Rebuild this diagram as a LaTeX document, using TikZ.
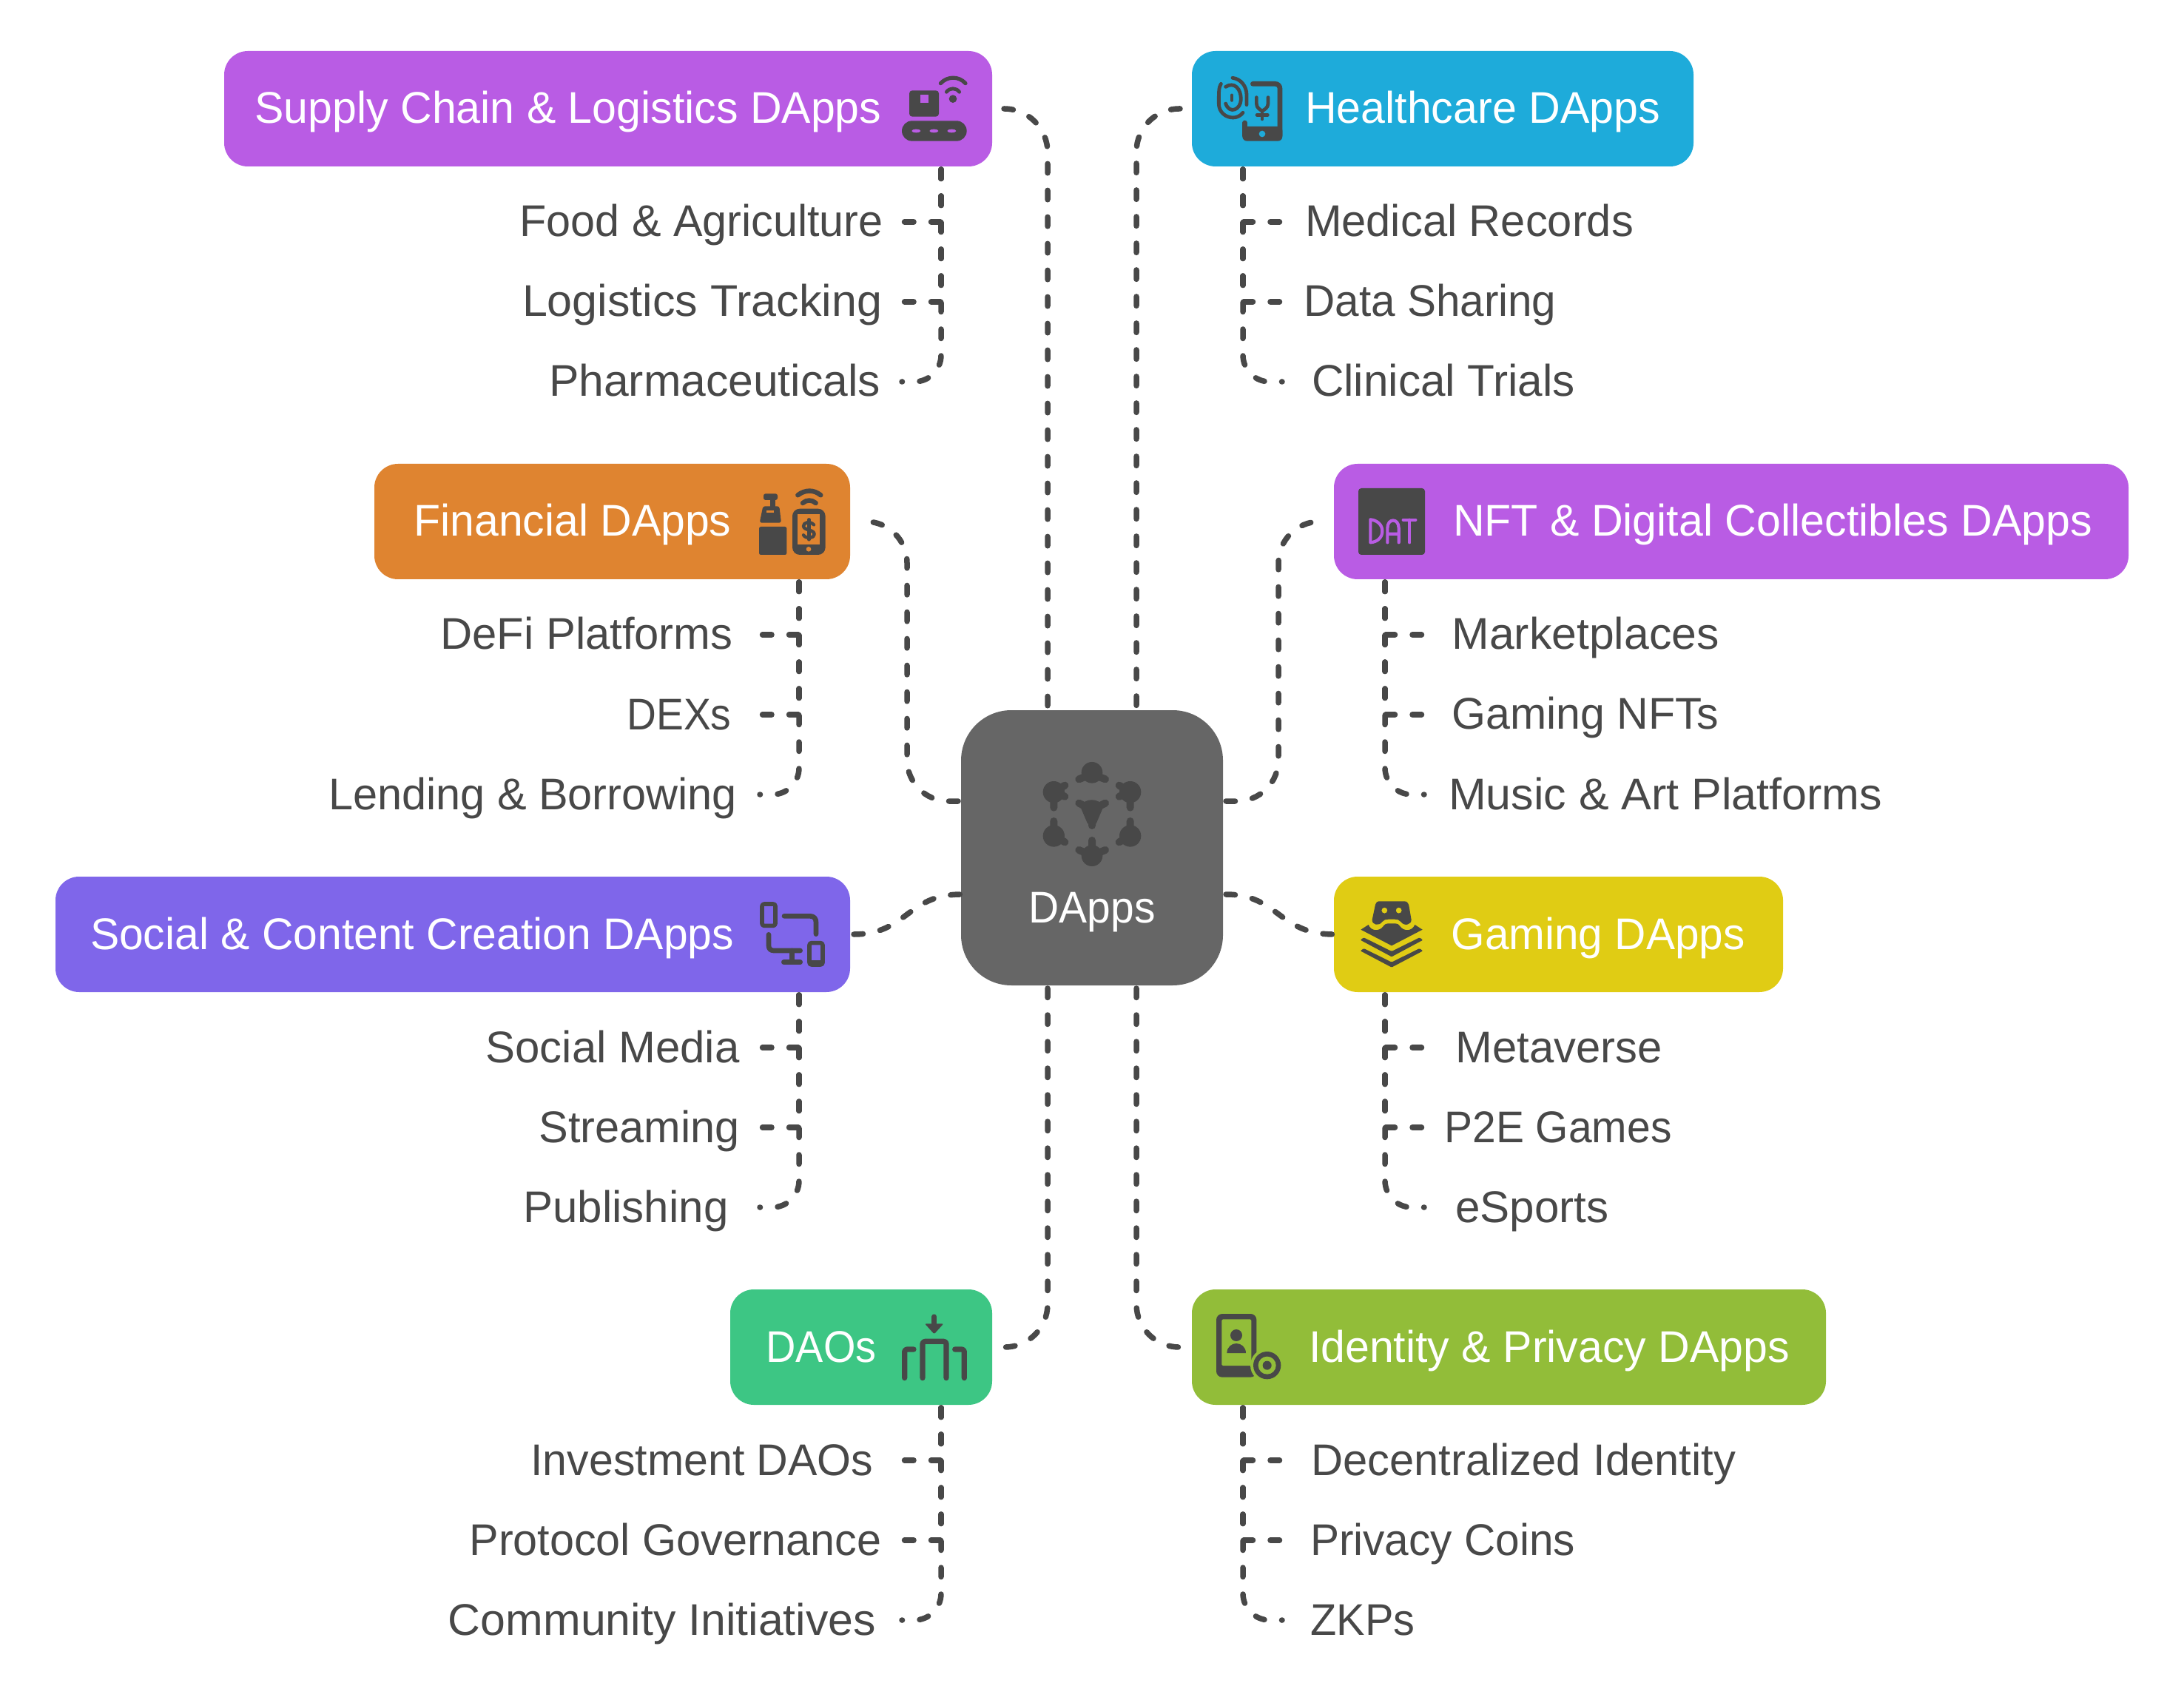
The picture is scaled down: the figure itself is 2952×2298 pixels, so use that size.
\documentclass[tikz,border=0pt]{standalone}
\usepackage{fontspec}
\usepackage{graphicx}
\setmainfont{Liberation Sans}
\usetikzlibrary{calc}
\definecolor{ink}{HTML}{484848}
\definecolor{cPurple}{HTML}{B95CE4}
\definecolor{cBlue}{HTML}{1EABDA}
\definecolor{cOrange}{HTML}{DF8430}
\definecolor{cIndigo}{HTML}{7F66EA}
\definecolor{cYellow}{HTML}{E0CC14}
\definecolor{cGreen}{HTML}{3DC684}
\definecolor{cLime}{HTML}{92BD39}
\definecolor{cCenter}{HTML}{666666}
\newcommand{\fit}[2]{\resizebox{\dimexpr#1pt/4\relax}{\height}{#2}}
\newcommand{\tx}[3]{\kern#1\makebox[0pt]{\fit{#2}{#3}}\kern-\dimexpr#1\relax}
\newcommand{\branch}[3]{\draw[conn] ($(#1.south -| #2)+(0,4)$) -- (#2 |- #3) -- (#3);}
\newcommand{\branchr}[3]{\draw[conn,rounded corners=9pt] ($(#1.south -| #2)+(0,4)$) -- (#2 |- #3) -- (#3);}
\tikzset{
  x=0.25pt,y=-0.25pt,
  every node/.style={inner sep=0pt,outer sep=0pt},
  conn/.style={draw=ink,line width=1.875pt,line cap=round,dash pattern=on 3.125pt off 5.875pt},
  bx/.style={rectangle,rounded corners=8pt,minimum height=39pt,text=white,text height=12pt,text depth=2pt,font=\fontsize{15}{18}\selectfont},
  sublabel/.style={anchor=base,text=ink,font=\fontsize{15}{18}\selectfont},
  ic/.style 2 args={shift={(#1,#2)},x=0.083333pt,y=-0.083333pt},
  st/.style={draw=ink,line cap=round,line join=round,line width=#1},
  st/.default=1.667pt
}
\begin{document}
\begin{tikzpicture}
\useasboundingbox (0,0) rectangle (2952,2298);
\fill[white] (0,0) rectangle (2952,2298);
% boxes
\node[bx,fill=cPurple,minimum width=259.5pt] (supply) at (822,147) {\tx{-13.5pt}{847}{Supply Chain \& Logistics DApps}};
\node[bx,fill=cBlue,minimum width=169.5pt] (health) at (1950,147) {\tx{13.5pt}{480}{Healthcare DApps}};
\node[bx,fill=cOrange,minimum width=160.75pt] (fin) at (827.5,705) {\tx{-13.375pt}{429}{Financial DApps}};
\node[bx,fill=cPurple,minimum width=268.5pt] (nft) at (2340,705) {\tx{14pt}{864}{NFT \& Digital Collectibles DApps}};
\node[bx,fill=cIndigo,minimum width=268.5pt] (social) at (612,1263) {\tx{-13.75pt}{870}{Social \& Content Creation DApps}};
\node[bx,fill=cYellow,minimum width=151.75pt] (gaming) at (2106.5,1263) {\tx{13.375pt}{397}{Gaming DApps}};
\node[bx,fill=cGreen,minimum width=88.5pt] (daos) at (1164,1821) {\tx{-13.5pt}{149}{DAOs}};
\node[bx,fill=cLime,minimum width=214.25pt] (identity) at (2039.5,1821) {\tx{13.625pt}{650}{Identity \& Privacy DApps}};
\node[bx,fill=cCenter,rounded corners=17pt,minimum width=88.5pt,minimum height=93pt] (dapps) at (1476,1146) {\raisebox{-20.25pt}{\fit{171}{DApps}}};
% sub labels
\node[sublabel] (l11) at (948,320) {\fit{491}{Food \& Agriculture}};
\node[sublabel] (l12) at (949,428) {\fit{486}{Logistics Tracking}};
\node[sublabel] (l13) at (966,536) {\fit{448}{Pharmaceuticals}};
\node[sublabel] (l21) at (1986,320) {\fit{444}{Medical Records}};
\node[sublabel] (l22) at (1933,428) {\fit{341}{Data Sharing}};
\node[sublabel] (l23) at (1951,536) {\fit{356}{Clinical Trials}};
\node[sublabel] (l31) at (793,878) {\fit{395}{DeFi Platforms}};
\node[sublabel] (l32) at (918,986) {\fit{141}{DEXs}};
\node[sublabel] (l33) at (720,1094) {\fit{552}{Lending \& Borrowing}};
\node[sublabel] (l41) at (2143,878) {\fit{361}{Marketplaces}};
\node[sublabel] (l42) at (2143,986) {\fit{361}{Gaming NFTs}};
\node[sublabel] (l43) at (2251,1094) {\fit{586}{Music \& Art Platforms}};
\node[sublabel] (l51) at (828,1436) {\fit{343}{Social Media}};
\node[sublabel] (l52) at (864,1544) {\fit{271}{Streaming}};
\node[sublabel] (l53) at (846,1652) {\fit{277}{Publishing}};
\node[sublabel] (l61) at (2107,1436) {\fit{279}{Metaverse}};
\node[sublabel] (l62) at (2106,1544) {\fit{307}{P2E Games}};
\node[sublabel] (l63) at (2071,1652) {\fit{207}{eSports}};
\node[sublabel] (l71) at (949,1994) {\fit{463}{Investment DAOs}};
\node[sublabel] (l72) at (913,2102) {\fit{557}{Protocol Governance}};
\node[sublabel] (l73) at (895,2210) {\fit{578}{Community Initiatives}};
\node[sublabel] (l81) at (2059,1994) {\fit{574}{Decentralized Identity}};
\node[sublabel] (l82) at (1950,2102) {\fit{358}{Privacy Coins}};
\node[sublabel] (l83) at (1842,2210) {\fit{141}{ZKPs}};
% helper coordinates
\coordinate (xA) at (1272,0);
\coordinate (xB) at (1680,0);
\coordinate (xC) at (1080,0);
\coordinate (xD) at (1872,0);
\coordinate (c11) at (1219,300);
\coordinate (c12) at (1219,408);
\coordinate (c13) at (1219,516);
\coordinate (c21) at (1733,300);
\coordinate (c22) at (1733,408);
\coordinate (c23) at (1733,516);
\coordinate (c31) at (1027,858);
\coordinate (c32) at (1027,966);
\coordinate (c33) at (1027,1074);
\coordinate (c41) at (1925,858);
\coordinate (c42) at (1925,966);
\coordinate (c43) at (1925,1074);
\coordinate (c51) at (1027,1416);
\coordinate (c52) at (1027,1524);
\coordinate (c53) at (1027,1632);
\coordinate (c61) at (1925,1416);
\coordinate (c62) at (1925,1524);
\coordinate (c63) at (1925,1632);
\coordinate (c71) at (1219,1974);
\coordinate (c72) at (1219,2082);
\coordinate (c73) at (1219,2190);
\coordinate (c81) at (1733,1974);
\coordinate (c82) at (1733,2082);
\coordinate (c83) at (1733,2190);
% branches
\branch{supply}{xA}{c11}\branch{supply}{xA}{c12}\branchr{supply}{xA}{c13}
\branch{health}{xB}{c21}\branch{health}{xB}{c22}\branchr{health}{xB}{c23}
\branch{fin}{xC}{c31}\branch{fin}{xC}{c32}\branchr{fin}{xC}{c33}
\branch{nft}{xD}{c41}\branch{nft}{xD}{c42}\branchr{nft}{xD}{c43}
\branch{social}{xC}{c51}\branch{social}{xC}{c52}\branchr{social}{xC}{c53}
\branch{gaming}{xD}{c61}\branch{gaming}{xD}{c62}\branchr{gaming}{xD}{c63}
\branch{daos}{xA}{c71}\branch{daos}{xA}{c72}\branchr{daos}{xA}{c73}
\branch{identity}{xB}{c81}\branch{identity}{xB}{c82}\branchr{identity}{xB}{c83}
% main connectors
\coordinate (yA) at (0,1083);
\coordinate (yB) at (0,1209);
\coordinate (vL) at (1416,0);
\coordinate (vR) at (1536,0);
\coordinate (vFin) at (1226,0);
\coordinate (vNft) at (1728,0);
\draw[conn,rounded corners=14.75pt] ($(supply.east)+(16,0)$) -- (vL |- supply.east) -- ($(dapps.north -| vL)+(0,-2)$);
\draw[conn,rounded corners=14.5pt] ($(health.west)+(-16,0)$) -- (vR |- health.west) -- ($(dapps.north -| vR)+(0,-2)$);
\draw[conn,rounded corners=14pt] ($(dapps.west |- yA)+(-4,0)$) -- (vFin |- yA) -- (vFin |- fin.east) -- ($(fin.east)+(20,0)$);
\draw[conn,rounded corners=14pt] ($(dapps.east |- yA)+(4,0)$) -- (vNft |- yA) -- (vNft |- nft.west) -- ($(nft.west)+(-14,0)$);
\draw[conn] ($(social.east)+(5,0)$) .. controls (vFin |- social.east) and (vFin |- yB) .. (dapps.west |- yB);
\draw[conn] ($(dapps.east |- yB)+(4,0)$) .. controls (vNft |- yB) and (vNft |- gaming.west) .. (gaming.west);
\draw[conn,rounded corners=14.5pt] ($(dapps.south -| vL)+(0,4)$) -- (vL |- daos.east) -- ($(daos.east)+(14,0)$);
\draw[conn,rounded corners=14.5pt] ($(dapps.south -| vR)+(0,4)$) -- (vR |- identity.west) -- ($(identity.west)+(-10,0)$);
% icon supply
\begin{scope}[ic={1150}{60}]
\fill[ink,rounded corners=1pt] (237,187) rectangle (357,293);
\fill[cPurple] (281,203) rectangle (314,238);
\fill[ink,rounded corners=3.4pt] (207,310) rectangle (470,392);
\fill[cPurple] (265,351) ellipse (18 and 7) (337,351) ellipse (18 and 7) (409,351) ellipse (18 and 7);
\fill[ink] (414,221) circle (16);
\draw[st=1.2pt] (388,193) .. controls (400,175) and (428,175) .. (440,193);
\draw[st=1.3pt] (364,158) .. controls (392,128) and (438,128) .. (465,158);
\end{scope}
% icon health
\begin{scope}[ic={1590}{60}]
\fill[ink,rounded corners=1.5pt] (268,333) rectangle (430,392);
\fill[ink,rounded corners=1pt] (268,333) rectangle (288,345);
\draw[st] (310,160) -- (400,160) .. controls (412,160) and (420,168) .. (420,180) -- (420,370);
\draw[st] (278,318) -- (278,370);
\fill[cBlue] (348,363) circle (13);
\draw[st=1.17pt] (325,215) -- (325,240) .. controls (325,258) and (340,265) .. (348,270) .. controls (356,265) and (372,258) .. (372,240) -- (372,215);
\draw[st=1.17pt] (348,270) -- (348,303) (327,286) -- (370,286);
\draw[st=1.2pt] (181,160) .. controls (172,175) and (172,190) .. (172,240) .. controls (172,275) and (200,297) .. (230,297) .. controls (245,297) and (260,290) .. (270,277);
\draw[st=1.2pt] (228,136) .. controls (262,140) and (285,170) .. (285,205) -- (285,245);
\draw[st=1.2pt] (200,172) .. controls (235,150) and (262,180) .. (262,222) .. controls (262,265) and (215,285) .. (200,240);
\draw[st=.9pt] (225,205) -- (225,228);
\end{scope}
% icon financial
\begin{scope}[ic={990}{640}]
\fill[ink,rounded corners=.6pt] (108,216) rectangle (220,330);
\fill[ink,rounded corners=.7pt] (124,133) -- (190,133) -- (198,200) -- (110,200) -- cycle;
\fill[ink] (152,100) rectangle (175,140);
\fill[ink,rounded corners=.7pt] (126,82) rectangle (183,108);
\fill[cOrange] (138,150) rectangle (168,160);
\fill[ink,rounded corners=2.5pt] (243,143) rectangle (377,330);
\fill[cOrange] (265,165) rectangle (355,287);
\fill[cOrange] (309,307) circle (10);
\draw[st=1.1pt] (330,208) .. controls (315,192) and (288,198) .. (288,213) .. controls (288,232) and (332,226) .. (332,247) .. controls (332,262) and (300,268) .. (288,250);
\draw[st=1.1pt] (310,187) -- (310,268);
\draw[st=1.6pt] (265,88) .. controls (295,65) and (330,65) .. (358,88);
\draw[st=1.6pt] (285,120) .. controls (300,106) and (322,106) .. (338,120);
\end{scope}
% icon nft
\begin{scope}[ic={1800}{640}]
\fill[ink,rounded corners=1pt] (108,60) rectangle (378,330);
\draw[cPurple,line width=1.05pt,line cap=round,line join=round] (157,187) -- (157,280) .. controls (185,278) and (205,260) .. (205,234) .. controls (205,208) and (185,190) .. (157,187);
\draw[cPurple,line width=1.05pt,line cap=round,line join=round] (226,280) -- (226,222) .. controls (226,180) and (272,180) .. (272,222) -- (272,280) (226,245) -- (272,245);
\draw[cPurple,line width=1.05pt,line cap=round,line join=round] (290,188) -- (340,188) (316,188) -- (316,280);
\end{scope}
% icon center
\begin{scope}[ic={1290}{950}]
\fill[ink] (558,283) circle (43);
\draw[st=2.5pt] (505,310) -- (530,300) (612,310) -- (586,300);
\fill[ink] (403,362) circle (44) (713,362) circle (44) (403,540) circle (44) (713,540) circle (44);
\draw[st=2.5pt] (403,362) -- (448,335) (403,362) -- (448,380) (403,362) -- (403,425);
\draw[st=2.5pt] (713,362) -- (668,335) (713,362) -- (668,380) (713,362) -- (713,425);
\draw[st=2.5pt] (403,540) -- (403,480) (403,540) -- (448,565);
\draw[st=2.5pt] (713,540) -- (713,480) (713,540) -- (668,565);
\fill[ink] (510,420) .. controls (530,385) and (585,385) .. (605,420) -- (575,490) -- (540,490) -- cycle;
\draw[st=2.5pt] (505,407) -- (540,425) (612,407) -- (576,425) (558,440) -- (558,498);
\fill[ink] (558,620) circle (43);
\draw[st=2.5pt] (558,620) -- (558,558) (505,597) -- (558,620) (612,597) -- (558,620);
\end{scope}
% icon social
\begin{scope}[ic={1010}{1200}]
\draw[st=1.4pt,rounded corners=.7pt] (60,66) rectangle (114,154);
\draw[st] (150,115) -- (255,115) .. controls (270,115) and (279,125) .. (279,140) -- (279,188);
\draw[st] (87,190) -- (87,235) .. controls (87,248) and (95,255) .. (108,255) -- (215,255);
\draw[st] (181,255) -- (181,302) (148,302) -- (215,302);
\draw[st=1.4pt,rounded corners=.7pt] (252,224) rectangle (306,312);
\fill[ink] (252,295) rectangle (306,312);
\end{scope}
% icon gaming
\begin{scope}[ic={1810}{1200}]
\fill[ink,even odd rule] (160,55) -- (265,55) .. controls (275,55) and (280,62) .. (283,72) -- (293,130) .. controls (293,150) and (265,158) .. (250,138) .. controls (245,130) and (235,128) .. (225,128) -- (200,128) .. controls (190,128) and (180,130) .. (175,138) .. controls (160,158) and (133,150) .. (134,130) -- (147,68) .. controls (150,60) and (155,55) .. (160,55) -- cycle (196,92) arc (0:360:12) (254,92) arc (0:360:12);
\fill[ink] (88,170) -- (119,150) .. controls (130,178) and (165,178) .. (180,155) .. controls (185,148) and (190,145) .. (198,145) -- (228,145) .. controls (236,145) and (241,148) .. (246,155) .. controls (261,178) and (296,178) .. (307,150) -- (338,170) -- (213,235) -- cycle;
\fill[ink,rounded corners=.3pt] (86,212) -- (100,202) -- (213,258) -- (326,202) -- (340,212) -- (213,280) -- cycle;
\fill[ink,rounded corners=.3pt] (86,256) -- (100,246) -- (213,302) -- (326,246) -- (340,256) -- (213,323) -- cycle;
\end{scope}
% icon daos
\begin{scope}[ic={1200}{1760}]
\draw[st=1.8pt] (188,60) -- (188,100);
\fill[ink,rounded corners=.5pt] (150,88) -- (226,88) -- (188,130) -- cycle;
\draw[st=1.8pt,rounded corners=.8pt] (141,308) -- (141,160) -- (237,160) -- (237,308);
\draw[st=1.8pt,rounded corners=.8pt] (68,308) -- (68,192) -- (105,192);
\draw[st=1.8pt,rounded corners=.8pt] (310,308) -- (310,192) -- (272,192);
\end{scope}
% icon identity
\begin{scope}[ic={1620}{1760}]
\fill[ink,rounded corners=2pt] (72,48) rectangle (235,305);
\fill[cLime,rounded corners=.4pt] (94,70) rectangle (214,258);
\fill[cLime] (278,257) circle (68);
\fill[ink] (278,257) circle (56);
\fill[cLime] (278,257) circle (36);
\fill[ink] (278,257) circle (18);
\fill[ink] (153,135) circle (24);
\fill[ink] (115,207) .. controls (115,182) and (135,168) .. (153,168) .. controls (172,168) and (192,182) .. (192,207) -- cycle;
\end{scope}
\end{tikzpicture}
\end{document}
